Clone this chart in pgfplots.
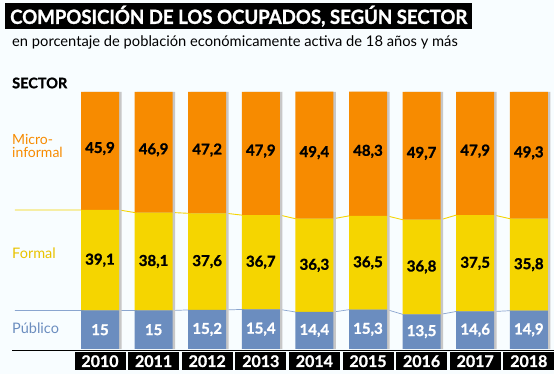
\documentclass[border=0pt]{standalone}
\usepackage{pgfplots}
\pgfplotsset{compat=1.18}
\usepackage{fontspec}
\setmainfont{Lato}
\newfontfamily\heavy[FakeBold=1.2]{Lato Bold}
\definecolor{bgc}{HTML}{F8FDFF}
\definecolor{orng}{HTML}{F78B00}
\definecolor{yell}{HTML}{F5D500}
\definecolor{blu}{HTML}{6B8DBF}
\definecolor{gold}{HTML}{E9C300}
\definecolor{lblu}{HTML}{8AA5CF}
\pgfplotsset{base/.style={
  scale only axis, width=482.4bp, height=257bp,
  xmin=-0.5, xmax=8.5, ymin=0, ymax=100,
  at={(73.2bp,25bp)}, anchor=south west}}
\begin{document}
\begin{tikzpicture}
\path[use as bounding box, fill=bgc] (0,0) rectangle (554bp,374bp);
% background axis: connecting lines and shadows
\begin{axis}[base, hide axis, clip=false]
\addplot[yell, line width=0.9pt] coordinates {(-1.586,54.1) (0.355,54.1) (0.645,53.1) (1.355,53.1) (1.645,52.8) (2.355,52.8) (2.645,52.1) (3.355,52.1) (3.645,50.7) (4.355,50.7) (4.645,51.8) (5.355,51.8) (5.645,50.3) (6.355,50.3) (6.645,52.1) (7.355,52.1) (7.645,50.7) (8.355,50.7)};
\addplot[lblu, line width=0.7pt] coordinates {(-1.586,15) (0.355,15) (0.645,15) (1.355,15) (1.645,15.2) (2.355,15.2) (2.645,15.4) (3.355,15.4) (3.645,14.4) (4.355,14.4) (4.645,15.3) (5.355,15.3) (5.645,13.5) (6.355,13.5) (6.645,14.6) (7.355,14.6) (7.645,14.9) (8.355,14.9)};
\addplot[ybar, bar width=38bp, bar shift=2.5bp, fill=black!22, draw=none] coordinates {(0,100) (1,100) (2,100) (3,100) (4,100) (5,100) (6,100) (7,100) (8,100)};
\end{axis}
% stacked bars
\begin{axis}[base, ybar stacked, bar width=38bp,
  axis line style={draw=none}, major tick length=0pt, ytick=\empty,
  xtick={0,...,8},
  xticklabels={2010,2011,2012,2013,2014,2015,2016,2017,2018},
  xticklabel style={anchor=north, inner sep=0pt, fill=black, text=white,
    minimum width=51bp, minimum height=18bp, yshift=-3bp,
    font=\fontsize{16bp}{18bp}\selectfont\heavy}]
\addplot[fill=blu, draw=none] coordinates {(0,15) (1,15) (2,15.2) (3,15.4) (4,14.4) (5,15.3) (6,13.5) (7,14.6) (8,14.9)};
\addplot[fill=yell, draw=none] coordinates {(0,39.1) (1,38.1) (2,37.6) (3,36.7) (4,36.3) (5,36.5) (6,36.8) (7,37.5) (8,35.8)};
\addplot[fill=orng, draw=none] coordinates {(0,45.9) (1,46.9) (2,47.2) (3,47.9) (4,49.4) (5,48.3) (6,49.7) (7,47.9) (8,49.3)};
\end{axis}
% value labels
\begin{axis}[base, hide axis, nodes near coords, point meta=explicit symbolic,
  nodes near coords style={anchor=center, font=\fontsize{15bp}{17bp}\selectfont\heavy}]
\addplot[only marks, mark=none, nodes near coords style={text=white}] table[meta=l] {
x y l
0 7.5 15
1 7.5 15
2 7.6 15,2
3 7.7 15,4
4 7.2 14,4
5 7.65 15,3
6 6.75 13,5
7 7.3 14,6
8 7.45 14,9
};
\addplot[only marks, mark=none] table[meta=l] {
x y l
0 34.55 39,1
1 34.05 38,1
2 34.0 37,6
3 33.75 36,7
4 32.55 36,3
5 33.55 36,5
6 31.9 36,8
7 33.35 37,5
8 32.8 35,8
};
\addplot[only marks, mark=none] table[meta=l] {
x y l
0 78.0 45,9
1 77.5 46,9
2 77.4 47,2
3 77.0 47,9
4 76.4 49,4
5 76.9 48,3
6 76.1 49,7
7 77.0 47,9
8 76.3 49,3
};
\end{axis}
% baseline
\draw[black, line width=1pt] (12bp,24bp) -- (554bp,24bp);
% title and texts
\node[fill=black, text=white, anchor=north west, inner xsep=5bp, inner ysep=0pt,
  minimum height=26bp, font=\fontsize{19.5bp}{22bp}\selectfont\heavy] at (5bp,371bp)
  {\resizebox{457bp}{\height}{COMPOSICIÓN DE LOS OCUPADOS, SEGÚN SECTOR}};
\node[anchor=west, inner sep=0pt, font=\fontsize{14.7bp}{16bp}\selectfont] at (12bp,332bp) {en porcentaje de población económicamente activa de 18 años y más};
\node[anchor=west, inner sep=0pt, font=\fontsize{14.5bp}{16bp}\selectfont\heavy] at (12bp,291bp) {SECTOR};
\node[anchor=base west, inner sep=0pt, text=orng, font=\fontsize{14bp}{16bp}\selectfont] at (12bp,229bp) {Micro-};
\node[anchor=base west, inner sep=0pt, text=orng, font=\fontsize{14bp}{16bp}\selectfont] at (12bp,216bp) {informal};
\node[anchor=west, inner sep=0pt, text=gold, font=\fontsize{14.5bp}{16bp}\selectfont] at (12bp,121bp) {Formal};
\node[anchor=west, inner sep=0pt, text=blu, font=\fontsize{14.5bp}{16bp}\selectfont] at (12bp,46bp) {Público};
\end{tikzpicture}
\end{document}
